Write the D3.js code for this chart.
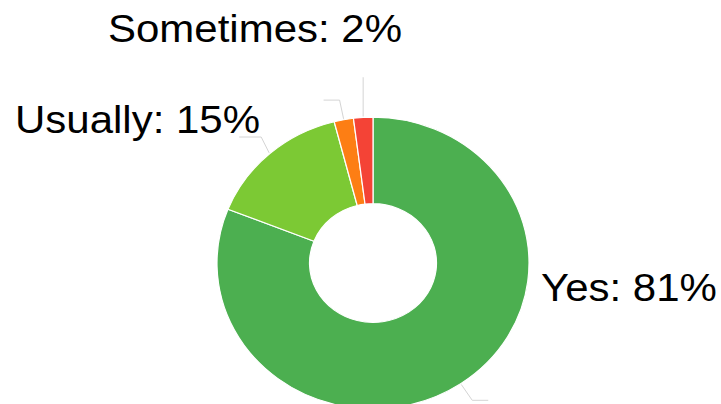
<!DOCTYPE html>
<html>
<head>
<meta charset="utf-8">
<script src="https://cdn.jsdelivr.net/npm/d3@7"></script>
<style>
  html, body { margin: 0; padding: 0; background: #fff; }
  svg { display: block; }
  text { font-family: "Liberation Sans", Arial, sans-serif; }
</style>
</head>
<body>
<svg id="chart" width="721" height="404"></svg>
<script>
// Answer shares, clockwise from twelve o'clock
const categories = ["Yes", "Usually", "Sometimes", "No"];
const percents   = [81, 15, 2, 2];
const colors     = ["#4caf50", "#7cc934", "#fd7e14", "#f44336"];
const showLabel  = [true, true, true, false];

// Layout (drawing space is compressed vertically by yScale)
const W = 721, H = 404;
const yScale = 0.935;
const cx = 373, cy = 281.3;
const outerR = 156, innerR = 63.5;
const fontSize = 42;

// Connector shape per slice: first leg (dx, dy) from the rim, then horizontal leg
const connectors = [
  { dx: 11, dy: 17, run: 16 },
  { dx: -8, dy: -17, run: -22 },
  { dx: -4, dy: -20, run: -16 },
  { dx: 0, dy: -42, run: 0 }
];
// Label anchor (text start x, baseline y) in drawing space
const labelPos = [
  { x: 541, y: 321.5 },
  { x: 15, y: 142.6 },
  { x: 108, y: 44.6 }
];

const data = categories.map((c, i) => ({ name: c, value: percents[i], color: colors[i], i }));

const svg = d3.select("#chart");
const g = svg.append("g").attr("transform", `scale(1, ${yScale})`);

const pie = d3.pie().value(d => d.value).sort(null).startAngle(0).endAngle(2 * Math.PI);
const arcs = pie(data);

const arc = d3.arc().innerRadius(innerR).outerRadius(outerR);

const plot = g.append("g").attr("transform", `translate(${cx},${cy})`);

plot.selectAll("path.slice")
  .data(arcs)
  .join("path")
  .attr("class", "slice")
  .attr("d", arc)
  .attr("fill", d => d.data.color)
  .attr("stroke", "#ffffff")
  .attr("stroke-width", 1.2)
  .attr("stroke-linejoin", "round");

// Connector lines from the rim of each slice
const rimPoint = (a, r) => [Math.sin(a) * r, -Math.cos(a) * r];
plot.selectAll("path.connector")
  .data(arcs)
  .join("path")
  .attr("class", "connector")
  .attr("d", d => {
    const mid = (d.startAngle + d.endAngle) / 2;
    const [x0, y0] = rimPoint(mid, outerR + 1);
    const c = connectors[d.data.i];
    const x1 = x0 + c.dx, y1 = y0 + c.dy;
    const p = d3.path();
    p.moveTo(x0, y0);
    p.lineTo(x1, y1);
    if (c.run) p.lineTo(x1 + c.run, y1);
    return p.toString();
  })
  .attr("fill", "none")
  .attr("stroke", "#d4d4d4")
  .attr("stroke-width", 1)
  .attr("vector-effect", "non-scaling-stroke");

// Data labels
g.selectAll("text.label")
  .data(arcs.filter(d => showLabel[d.data.i]))
  .join("text")
  .attr("class", "label")
  .attr("x", d => labelPos[d.data.i].x)
  .attr("y", d => labelPos[d.data.i].y)
  .attr("font-size", fontSize)
  .attr("fill", "#000")
  .text(d => `${d.data.name}: ${d.data.value}%`);
</script>
</body>
</html>
